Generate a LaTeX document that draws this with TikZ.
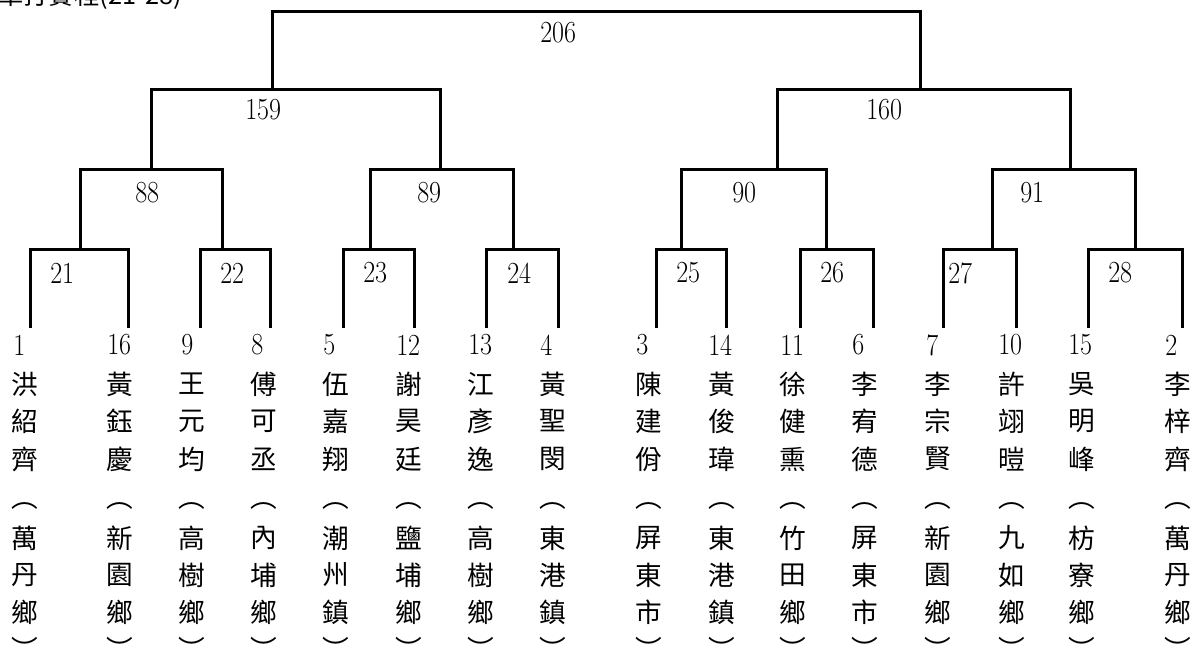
\documentclass[tikz,border=0pt]{standalone}
\usepackage{fontspec}
\newfontfamily\cjk{Noto Sans CJK TC}
\newcommand\nm[1]{\scalebox{0.85}[1]{\fontsize{23}{23}\selectfont #1}}
\begin{document}
\begin{tikzpicture}[x=0.75pt,y=-0.75pt,
  br/.style={line width=2.25pt, line join=miter},
  num/.style={inner sep=0pt, anchor=west},
  ch/.style={font=\cjk\fontsize{20}{20}\selectfont, inner sep=0pt, anchor=center}]
\useasboundingbox (0,0) rectangle (1193,652);
\fill[white] (0,0) rectangle (1193,652);

% title, cut by the top edge as in the reference
\node[anchor=base west, font=\cjk\fontsize{19}{19}\selectfont, inner sep=0pt] (title) at (-2,5) {單打賽程(21-28)};

% leaf rows
\def\ra{384}\def\rb{421}\def\rc{459}\def\rp{506}\def\rd{538}\def\re{575}\def\rf{612}\def\rq{648}
\newcommand\player[9]{%
  \node[num] (n#1) at (#3,345) {\nm{#1}};
  \node[ch] (a#1) at (#2,\ra) {#4};
  \node[ch] (b#1) at (#2,\rb) {#5};
  \node[ch] (c#1) at (#2,\rc) {#6};
  \node[ch] (p#1) at (#2,\rp) {︵};
  \node[ch] (d#1) at (#2,\rd) {#7};
  \node[ch] (e#1) at (#2,\re) {#8};
  \node[ch] (f#1) at (#2,\rf) {#9};
  \node[ch] (q#1) at (#2,\rq) {︶};
}
\player{1}{25}{13}{洪}{紹}{齊}{萬}{丹}{鄉}
\player{16}{120}{107}{黃}{鈺}{慶}{新}{園}{鄉}
\player{9}{192}{181}{王}{元}{均}{高}{樹}{鄉}
\player{8}{264}{251}{傅}{可}{丞}{內}{埔}{鄉}
\player{5}{336}{323}{伍}{嘉}{翔}{潮}{州}{鎮}
\player{12}{409}{396}{謝}{昊}{廷}{鹽}{埔}{鄉}
\player{13}{481}{468}{江}{彥}{逸}{高}{樹}{鄉}
\player{4}{553}{540}{黃}{聖}{閔}{東}{港}{鎮}
\player{3}{649}{636}{陳}{建}{佾}{屏}{東}{市}
\player{14}{722}{708}{黃}{俊}{瑋}{東}{港}{鎮}
\player{11}{793}{780}{徐}{健}{熏}{竹}{田}{鄉}
\player{6}{865}{852}{李}{宥}{德}{屏}{東}{市}
\player{7}{938}{926}{李}{宗}{賢}{新}{園}{鄉}
\player{10}{1012}{998}{許}{翊}{暟}{九}{如}{鄉}
\player{15}{1082}{1068}{吳}{明}{峰}{枋}{寮}{鄉}
\player{2}{1178}{1165}{李}{梓}{齊}{萬}{丹}{鄉}

% leg bottoms above each player
\foreach \id/\x in {1/30,16/128,9/200,8/270,5/343,12/414,13/486,4/558,3/656,14/726,11/800,6/873,7/943,10/1016,15/1088,2/1182}
  \coordinate (b\id) at (\x,328);

% attach points of each match
\coordinate (t21) at (80,250);
\coordinate (t22) at (222,250);
\coordinate (t23) at (370,250);
\coordinate (t24) at (513,250);
\coordinate (t25) at (681,250);
\coordinate (t26) at (826,250);
\coordinate (t27) at (992,250);
\coordinate (t28) at (1135,250);
\coordinate (t88) at (151,170);
\coordinate (t89) at (440,170);
\coordinate (t90) at (777,170);
\coordinate (t91) at (1070,170);
\coordinate (t159) at (272,90);
\coordinate (t160) at (920,90);
\coordinate (t206) at (560,12);

% first round
\draw[br] (b1) |- (t21) -| (b16);
\draw[br] (b9) |- (t22) -| (b8);
\draw[br] (b5) |- (t23) -| (b12);
\draw[br] (b13) |- (t24) -| (b4);
\draw[br] (b3) |- (t25) -| (b14);
\draw[br] (b11) |- (t26) -| (b6);
\draw[br] (b7) |- (t27) -| (b10);
\draw[br] (b15) |- (t28) -| (b2);
% second round
\draw[br] (t21) |- (t88) -| (t22);
\draw[br] (t23) |- (t89) -| (t24);
\draw[br] (t25) |- (t90) -| (t26);
\draw[br] (t27) |- (t91) -| (t28);
% semi-final
\draw[br] (t88) |- (t159) -| (t89);
\draw[br] (t90) |- (t160) -| (t91);
% final
\draw[br] (t159) |- (t206) -| (t160);

% match labels
\foreach \m/\x/\y in {21/50/273,22/220/273,23/363/273,24/507/273,25/676/273,26/820/273,27/948/273,28/1108/273,88/135/193,89/417/193,90/732/193,91/1020/193,159/245/110,160/866/110,206/540/33}
  \node[num] (l\m) at (\x,\y) {\nm{\m}};
\end{tikzpicture}
\end{document}
